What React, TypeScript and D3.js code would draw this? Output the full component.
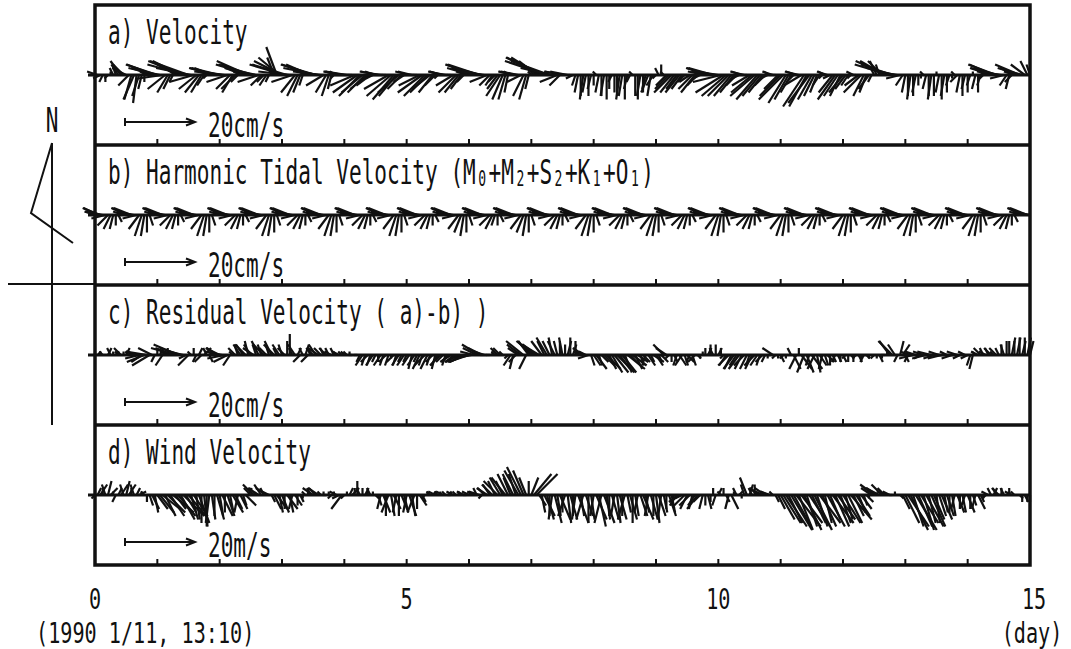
import { useEffect, useRef } from 'react';
import * as d3 from 'd3';

type UV = [number, number];

// hourly vectors [east, north], one row per day (cm/s, wind in m/s)
const velocityUV: UV[] = [
  [-2,0],[-3,1],[-2,-1],[-1,-2],[0,-2],[-1,-1],[0,1],[-1,2],[-1,3],[-2,3],[-3,4],[-3,3],[-4,2],[-3,-3],[-2,-7],[-3,-7],[-1,-8],[-2,-6],[-1,-4],[0,-2],[-2,1],[-4,2],[-6,2],[-8,3],
  [-9,3],[-9,2],[-7,-1],[-5,-4],[-3,-5],[-2,-4],[-1,-2],[-3,2],[-6,3],[-8,4],[-10,4],[-11,3],[-11,4],[-10,2],[-7,-2],[-5,-4],[-4,-5],[-3,-5],[-2,-3],[-1,-1],[-3,1],[-5,2],[-7,2],[-8,2],
  [-8,2],[-8,1],[-7,1],[-6,-2],[-4,-4],[-3,-5],[-4,-4],[-2,-2],[-2,1],[-5,2],[-7,3],[-9,4],[-10,3],[-10,3],[-9,2],[-6,-2],[-3,-3],[-2,-2],[-2,-3],[-1,-2],[-1,2],[-2,5],[-3,8],[-6,5],
  [-8,4],[-10,3],[-10,3],[-9,1],[-6,-2],[-4,-5],[-3,-6],[-2,-5],[-1,-3],[-2,1],[-5,2],[-7,3],[-9,3],[-10,3],[-10,2],[-8,1],[-5,-3],[-3,-5],[-2,-6],[-1,-4],[-1,-1],[-2,1],[-4,1],[-5,1],
  [-6,1],[-6,1],[-5,0],[-5,0],[-7,-3],[-7,-5],[-6,-6],[-6,-5],[-5,-5],[-5,-4],[-4,-3],[-2,-1],[-3,1],[-5,1],[-6,1],[-5,0],[-5,0],[-7,-4],[-7,-6],[-6,-7],[-5,-6],[-6,-5],[-4,-4],[-3,-2],
  [-2,0],[-4,1],[-4,1],[-4,0],[-4,0],[-6,-3],[-7,-5],[-6,-6],[-5,-5],[-5,-4],[-4,-5],[-3,-3],[-1,-1],[-3,1],[-4,1],[-5,1],[-5,0],[-4,0],[-5,-3],[-5,-5],[-4,-5],[-3,-4],[-2,-2],[-3,1],
  [-5,2],[-7,2],[-8,3],[-9,3],[-9,3],[-8,2],[-7,1],[-5,-2],[-3,-3],[-2,-3],[-2,-2],[-3,-4],[-4,-6],[-3,-7],[-2,-7],[-1,-5],[-2,1],[-4,1],[-5,1],[-5,1],[-4,-2],[-3,-6],[-2,-7],[-1,-4],
  [-1,1],[-3,3],[-5,4],[-8,5],[-10,5],[-11,5],[-12,4],[-11,4],[-9,2],[-7,0],[-5,-2],[-3,-3],[-5,1],[-6,1],[-5,1],[-4,0],[-2,-1],[-1,-3],[-1,-5],[0,-6],[-1,-7],[-1,-5],[0,-6],[-1,-4],
  [0,-3],[-1,1],[-1,-5],[0,-6],[-1,-6],[0,-7],[0,-4],[-1,-2],[0,-5],[0,-6],[-1,-7],[-1,-6],[0,-7],[-1,-4],[-1,-2],[-1,1],[0,-6],[0,-7],[-1,-6],[0,-5],[-1,-4],[-2,-5],[-1,-6],[-2,-3],
  [-1,-1],[-1,2],[0,3],[-1,1],[-3,-3],[-4,-4],[-5,-5],[-4,-5],[-3,-4],[-4,-5],[-3,-4],[-2,-2],[-2,0],[-3,-2],[-4,-4],[-4,-5],[-3,-3],[-2,-1],[-3,1],[-5,1],[-6,2],[-7,2],[-7,2],[-7,1],
  [-6,1],[-8,-2],[-8,-5],[-7,-6],[-6,-6],[-5,-6],[-4,-5],[-3,-3],[-2,-1],[-3,1],[-4,1],[-3,0],[-5,-3],[-6,-5],[-7,-6],[-6,-7],[-5,-6],[-4,-5],[-3,-3],[-2,-1],[-2,1],[-3,1],[-2,0],[-4,-4],
  [-6,-6],[-7,-7],[-5,-8],[-4,-7],[-3,-5],[-2,-2],[-3,1],[-4,1],[-5,-3],[-6,-9],[-5,-9],[-6,-8],[-4,-7],[-3,-6],[-2,-5],[-2,-3],[-1,-1],[-2,1],[-3,1],[-2,-1],[-4,-5],[-5,-7],[-4,-6],[-3,-6],
  [-4,-5],[-3,-4],[-2,-3],[-1,-1],[-2,1],[-2,0],[-4,-3],[-5,-5],[-3,-6],[-2,-5],[-3,-4],[-1,-2],[-1,2],[-2,4],[-1,3],[-4,4],[-7,4],[-9,4],[-10,3],[-9,3],[-8,2],[-6,1],[-4,-1],[-2,-3],
  [-1,-5],[0,-6],[-1,-7],[0,-6],[-1,-5],[0,-3],[0,-1],[-1,1],[-1,-4],[0,-6],[-1,-7],[0,-6],[0,1],[-1,-5],[0,-7],[-1,-6],[0,-5],[-1,-3],[0,-1],[-1,1],[-2,-2],[-1,-5],[0,-6],[-1,-4],
  [0,-5],[-1,-3],[0,1],[-1,-4],[0,-5],[-1,-3],[-1,-1],[-2,1],[-4,2],[-6,2],[-7,3],[-8,3],[-8,2],[-7,1],[-4,-1],[-2,-3],[-1,-4],[-2,-2],[-3,1],[-5,2],[-7,3],[-7,2],[-4,3],[-2,4],
  [-1,3],
];

const tidalUV: UV[] = [
  [-3,1],[-4,2],[-5,2],[-5,1],[-4,-1],[-3,-3],[-2,-4],[-1,-4],[0,-3],[1,-2],[-1,1],[-3,1],[-4,2],[-5,2],[-5,2],[-5,1],[-4,-1],[-3,-4],[-2,-6],[-1,-6],[0,-5],[1,-3],[-1,1],[-3,1],
  [-4,2],[-5,2],[-5,2],[-5,1],[-4,-1],[-3,-3],[-2,-4],[-1,-4],[0,-3],[1,-2],[-1,1],[-3,1],[-4,2],[-5,2],[-5,2],[-5,1],[-4,-1],[-3,-4],[-2,-6],[-1,-6],[0,-5],[1,-3],[0,0],[-1,1],
  [-3,1],[-4,2],[-5,2],[-5,2],[-5,1],[-4,-1],[-3,-3],[-2,-4],[-1,-4],[0,-3],[1,-2],[-1,1],[-3,1],[-4,2],[-5,2],[-5,2],[-5,1],[-4,-1],[-3,-4],[-2,-6],[-1,-6],[0,-5],[1,-3],[-1,1],
  [-3,1],[-4,2],[-5,2],[-5,2],[-5,1],[-4,-1],[-3,-3],[-2,-4],[-1,-4],[0,-3],[1,-2],[-1,1],[-3,1],[-4,2],[-5,2],[-5,2],[-5,1],[-4,-1],[-3,-4],[-2,-6],[-1,-6],[0,-5],[1,-3],[0,0],
  [-1,1],[-3,1],[-4,2],[-5,2],[-5,2],[-5,1],[-4,-1],[-3,-3],[-2,-4],[-1,-4],[0,-3],[1,-2],[-1,1],[-3,1],[-4,2],[-5,2],[-5,2],[-5,1],[-4,-1],[-3,-4],[-2,-6],[-1,-6],[0,-5],[1,-3],
  [-1,1],[-3,1],[-4,2],[-5,2],[-5,2],[-5,1],[-4,-1],[-3,-3],[-2,-4],[-1,-4],[0,-3],[1,-2],[0,0],[-1,1],[-3,1],[-4,2],[-5,2],[-5,2],[-5,1],[-4,-1],[-3,-4],[-2,-5],[-1,-6],[0,-5],
  [1,-3],[-1,1],[-3,1],[-4,2],[-5,2],[-5,2],[-5,1],[-4,-1],[-3,-3],[-2,-4],[-1,-3],[0,-3],[1,-2],[-1,1],[-3,1],[-4,2],[-5,2],[-5,2],[-5,1],[-4,-1],[-3,-4],[-2,-5],[-1,-6],[0,-5],
  [1,-3],[0,0],[-1,1],[-3,1],[-4,2],[-5,2],[-5,2],[-5,1],[-4,-1],[-3,-3],[-2,-4],[-1,-4],[0,-3],[1,-2],[-1,1],[-3,1],[-4,2],[-5,2],[-5,2],[-5,1],[-4,-1],[-3,-4],[-2,-6],[-1,-6],
  [0,-5],[1,-3],[0,0],[-1,1],[-3,1],[-4,2],[-5,2],[-5,2],[-5,1],[-4,-1],[-3,-3],[-2,-4],[-1,-4],[0,-3],[1,-2],[-1,1],[-3,1],[-4,2],[-5,2],[-5,2],[-5,1],[-4,-1],[-3,-4],[-2,-6],
  [-1,-6],[0,-5],[1,-3],[-1,1],[-3,1],[-4,2],[-5,2],[-5,2],[-5,1],[-4,-1],[-3,-3],[-2,-4],[-1,-4],[0,-3],[1,-2],[0,0],[-1,1],[-3,1],[-4,2],[-5,2],[-5,2],[-5,1],[-4,-1],[-3,-4],
  [-2,-6],[-1,-6],[0,-5],[1,-3],[-1,1],[-3,1],[-4,2],[-5,2],[-5,2],[-5,1],[-4,-1],[-3,-3],[-2,-4],[-1,-4],[0,-3],[1,-2],[0,0],[-1,1],[-3,1],[-4,2],[-5,2],[-5,2],[-5,1],[-4,-1],
  [-3,-4],[-2,-6],[-1,-6],[0,-5],[1,-3],[-1,1],[-3,1],[-4,2],[-5,2],[-5,2],[-5,1],[-4,-1],[-3,-3],[-2,-4],[-1,-4],[0,-3],[1,-2],[-1,1],[-3,1],[-4,2],[-5,2],[-5,2],[-5,1],[-4,-1],
  [-3,-4],[-2,-6],[-1,-6],[0,-5],[1,-3],[0,0],[-1,1],[-3,1],[-4,2],[-5,2],[-5,2],[-5,1],[-4,-1],[-3,-3],[-2,-4],[-1,-4],[0,-3],[1,-2],[-1,1],[-3,1],[-4,2],[-5,2],[-5,2],[-5,1],
  [-4,-1],[-3,-4],[-2,-6],[-1,-6],[0,-5],[1,-3],[-1,1],[-3,1],[-4,2],[-5,2],[-5,2],[-5,1],[-4,-1],[-3,-3],[-2,-4],[-1,-4],[0,-3],[1,-2],[0,0],[-1,1],[-3,1],[-4,2],[-5,2],[-5,2],
  [-5,1],[-4,-1],[-3,-4],[-2,-6],[-1,-6],[0,-5],[1,-3],[-1,1],[-3,1],[-4,2],[-5,2],[-5,2],[-5,1],[-4,-1],[-3,-3],[-2,-4],[-1,-4],[0,-3],[1,-2],[-1,1],[-3,1],[-4,2],[-5,2],[-5,2],
  [-5,1],
];

const residualUV: UV[] = [
  [0,1],[1,1],[0,1],[-1,1],[0,0],[1,2],[-1,2],[0,1],[1,1],[-1,1],[-2,2],[0,1],[1,2],[-1,1],[0,0],[-2,1],[-3,1],[-4,-1],[-3,-2],[-5,-2],[-6,1],[-5,-3],[-4,2],[-1,-2],
  [0,2],[1,2],[-2,-3],[-1,1],[0,2],[-3,1],[-5,2],[-7,2],[-7,3],[-6,2],[-4,1],[-2,-1],[-3,-3],[-1,1],[0,2],[-1,-2],[1,2],[-2,-2],[2,2],[-1,2],[1,-2],[0,1],[-2,1],[-3,2],
  [-4,2],[-5,1],[-5,-1],[-4,-2],[-2,-3],[-1,1],[-2,2],[-1,3],[-2,3],[-2,3],[-3,3],[-1,4],[-2,3],[-3,2],[-1,3],[-2,4],[-1,3],[-3,3],[-2,2],[-1,3],[-2,4],[-3,3],[-1,2],[-2,3],
  [-1,3],[-2,2],[0,4],[0,6],[-1,2],[-2,3],[1,2],[-2,-2],[-1,2],[1,3],[-2,-2],[-1,2],[-2,2],[-2,3],[-3,2],[-2,2],[-1,2],[-2,2],[-1,2],[-2,1],[-1,2],[-1,1],[-2,1],[-1,1],
  [-1,1],[-1,1],[0,1],[-1,0],[0,0],[-1,0],[-1,-2],[-2,-3],[-1,-3],[-2,-2],[-1,-3],[-2,-3],[-1,-2],[0,-2],[-2,-3],[-1,-3],[-2,-2],[-1,-3],[0,-1],[-2,-2],[-1,-3],[-2,-3],[-1,-2],[-2,-3],
  [-1,-2],[-2,-3],[-1,-4],[-2,-3],[-1,-2],[-2,-4],[-1,-3],[-3,-3],[-2,-4],[-1,-3],[-2,-2],[-1,-4],[-2,-3],[-3,-3],[-2,-2],[-1,-3],[-2,-2],[-3,-2],[-2,-2],[-3,-2],[-4,-2],[-3,-1],[-4,-2],[-5,-2],
  [-6,-2],[-5,-1],[-4,1],[-4,2],[-5,3],[-4,2],[-3,1],[-2,0],[-1,0],[0,1],[-1,1],[-2,2],[-2,2],[-1,1],[0,0],[-1,-1],[-2,-3],[-1,-4],[-2,-2],[-3,2],[-4,3],[-5,4],[-2,-4],[-3,4],
  [-4,4],[-5,4],[-4,3],[-5,3],[-3,4],[-2,4],[-3,5],[-2,4],[-1,5],[-2,4],[-1,4],[0,4],[-1,5],[0,3],[1,4],[0,5],[1,3],[0,4],[-1,2],[-2,1],[-3,2],[-2,1],[-3,-1],[1,-3],
  [2,-3],[3,-4],[1,-3],[2,-2],[3,-3],[4,-4],[2,-4],[3,-5],[4,-5],[5,-5],[3,-4],[4,-5],[2,-5],[5,-4],[3,-3],[4,-3],[2,-4],[3,-2],[1,-3],[2,-2],[-1,-3],[2,-3],[1,-2],[3,-2],
  [2,-3],[1,-2],[2,-2],[-3,3],[-3,2],[-1,-1],[0,-2],[1,-2],[-1,-3],[2,-3],[-2,-3],[1,-3],[2,-2],[-1,-2],[1,-3],[-2,-2],[1,-1],[0,-1],[0,1],[0,2],[1,2],[0,3],[-1,2],[0,3],
  [1,2],[0,2],[-1,-1],[-2,-3],[-3,-3],[-2,-4],[-3,-4],[-2,-3],[-3,-4],[-2,-4],[-3,-3],[-2,-4],[-1,-3],[-2,-4],[-3,-3],[-2,-3],[-1,-3],[-2,-2],[-1,-2],[0,-1],[-1,0],[-3,2],[-1,-1],[0,-1],
  [1,-2],[-1,-1],[0,-1],[0,0],[-1,2],[2,-4],[-2,-4],[0,2],[3,-4],[-2,-5],[2,-5],[-1,-3],[3,-4],[-2,-4],[1,-5],[2,-3],[-1,-4],[1,-3],[2,-2],[0,-3],[1,-2],[-1,-2],[1,-2],[0,-2],
  [1,-2],[-1,-1],[0,-2],[1,-1],[0,-2],[-1,-1],[1,-2],[0,-1],[-1,-2],[1,-1],[0,-1],[0,0],[-1,-1],[0,-1],[1,-2],[0,-1],[-1,0],[0,1],[-3,4],[-4,4],[-2,3],[-1,-2],[1,4],[2,3],
  [1,-2],[-1,-2],[-3,1],[-4,-1],[-3,1],[-4,0],[-2,-1],[-3,1],[-4,-1],[-3,0],[-4,1],[-3,-1],[-2,0],[-3,1],[-4,-1],[-3,0],[-2,1],[-4,0],[-3,-1],[-2,0],[-3,1],[-2,-1],[-3,0],[-2,1],
  [-2,-1],[-1,-3],[-1,-4],[-1,1],[-2,1],[-2,2],[-1,2],[-2,1],[-1,2],[-2,2],[-1,1],[-2,2],[-1,2],[0,3],[-1,3],[0,4],[0,4],[1,5],[0,4],[1,5],[0,5],[1,4],[0,5],[1,5],
  [1,4],
];

const windUV: UV[] = [
  [-1,-1],[1,2],[2,3],[0,2],[-1,3],[1,4],[2,2],[0,1],[-1,-2],[1,2],[2,3],[-1,3],[1,4],[2,3],[0,2],[-1,3],[1,2],[2,1],[0,1],[-1,1],[0,-2],[1,-3],[2,-4],[1,-5],
  [3,-4],[4,-5],[5,-4],[3,-6],[5,-5],[4,-6],[6,-5],[3,-4],[5,-6],[4,-7],[6,-6],[3,-5],[5,-6],[2,-7],[4,-6],[1,-7],[3,-8],[0,-8],[1,-9],[0,-9],[-1,-8],[1,-7],[0,-6],[2,-7],
  [1,-6],[3,-6],[0,-5],[2,-6],[1,-5],[3,-5],[2,-4],[-1,-5],[2,-4],[1,-3],[3,-3],[1,2],[-2,2],[-3,3],[-2,2],[-3,2],[-2,3],[-1,2],[-3,2],[-2,1],[1,-2],[2,-4],[3,-4],[1,-5],
  [2,-5],[0,-4],[3,-4],[1,-5],[-1,-4],[2,-3],[0,-3],[1,-2],[0,-1],[-1,1],[0,1],[-1,2],[-3,2],[-2,2],[-3,2],[-1,1],[0,1],[-1,0],[0,1],[-1,-1],[0,1],[-2,1],[-2,-1],[-3,-4],
  [-1,-1],[0,1],[1,2],[2,2],[0,2],[0,4],[-1,2],[0,2],[1,2],[0,1],[-1,2],[0,1],[1,-1],[1,-3],[-1,-4],[2,-5],[0,-6],[-2,-5],[1,-6],[2,-4],[-1,-5],[0,-6],[2,-5],[1,-4],
  [-1,-5],[2,-6],[1,-6],[-2,-5],[0,-4],[2,-3],[1,-2],[-1,-1],[0,1],[-1,1],[1,1],[-2,1],[-1,1],[0,1],[-2,1],[-1,1],[1,1],[-1,0],[-2,1],[-1,1],[0,1],[-1,1],[-2,1],[-1,0],
  [-2,1],[-1,1],[-2,1],[-1,2],[-3,1],[-1,-1],[-2,2],[-3,2],[-2,3],[-3,3],[-2,4],[-4,4],[-3,5],[-2,4],[-4,5],[-3,6],[-2,5],[-3,6],[-2,6],[-4,7],[-4,8],[-3,7],[-2,5],[0,4],
  [2,5],[5,6],[6,6],[2,-3],[1,-5],[3,-6],[2,-7],[0,-6],[-1,-7],[2,-8],[1,-6],[3,-7],[0,-5],[-2,-6],[1,-8],[2,-7],[0,-6],[-1,-7],[3,-8],[1,-6],[-2,-7],[2,-6],[0,-8],[1,-7],
  [-1,-6],[3,-7],[2,-9],[-2,-8],[3,-8],[1,-7],[0,-6],[2,-7],[-1,-6],[1,-8],[2,-7],[0,-6],[-2,-7],[1,-5],[2,-7],[0,-8],[1,-6],[-1,-5],[2,-6],[3,-7],[1,-5],[-1,-6],[2,-7],[0,-6],
  [1,-8],[2,-6],[-1,-7],[1,-5],[0,-4],[2,-6],[1,-5],[-1,-3],[-2,-3],[-3,-2],[-2,-1],[-3,-3],[-2,-4],[-3,-3],[-1,-4],[-2,-3],[-3,-4],[-2,-2],[-1,-4],[0,-3],[1,-4],[0,-2],[0,2],[-1,-3],
  [1,2],[-1,1],[0,2],[1,-2],[-1,-4],[2,-4],[0,1],[-1,2],[1,1],[0,-1],[-1,3],[-2,5],[1,3],[-1,2],[0,3],[-2,2],[-3,2],[-2,1],[-3,2],[-2,1],[-3,1],[-1,1],[1,-2],[2,-4],
  [4,-7],[5,-8],[6,-9],[4,-8],[6,-10],[5,-9],[7,-9],[4,-10],[6,-8],[5,-10],[3,-9],[6,-9],[4,-8],[5,-10],[3,-9],[6,-8],[4,-9],[2,-8],[5,-9],[3,-7],[6,-8],[4,-9],[5,-7],[3,-8],
  [5,-8],[2,-7],[4,-8],[6,-7],[3,-6],[4,-6],[2,-5],[3,-4],[1,-3],[2,-2],[0,-1],[-3,2],[-4,3],[-3,2],[-4,2],[-3,3],[-2,2],[-3,1],[-2,1],[-1,0],[0,1],[0,0],[1,-1],[2,-4],
  [4,-8],[6,-9],[5,-10],[3,-9],[6,-10],[4,-9],[5,-8],[3,-10],[5,-9],[2,-8],[4,-9],[3,-7],[1,-8],[2,-6],[3,-7],[1,-5],[2,-6],[0,-5],[1,-6],[-1,-4],[2,-5],[0,-4],[1,-5],[-1,-3],
  [2,-5],[0,-4],[1,-3],[-1,-4],[2,-4],[1,-2],[0,-1],[-1,-1],[-2,1],[-1,2],[1,2],[-1,2],[-2,2],[0,2],[-1,2],[1,1],[0,2],[-2,1],[-1,1],[0,0],[1,-1],[0,-2],[1,-2],[0,-2],
  [0,-2],
];

const panelTitles = ['a) Velocity', '', 'c) Residual Velocity ( a)-b) )', 'd) Wind Velocity'];
// title b with subscripted constituents: [text, isSubscript]
const tidalTitle: [string, boolean][] = [
  ['b) Harmonic Tidal Velocity (M', false], ['0', true], ['+M', false], ['2', true],
  ['+S', false], ['2', true], ['+K', false], ['1', true], ['+O', false], ['1', true], [')', false],
];
const scaleLabels = ['20cm/s', '20cm/s', '20cm/s', '20m/s'];
const dayTicks = d3.range(1, 15);
const dayLabels = [0, 5, 10, 15];

const W = 1071;
const H = 649;
const X0 = 95;
const X1 = 1030;
const TOP = 5;
const PH = 140;
const FONT = '"DejaVu Sans Mono", "Liberation Mono", monospace';
const FS = 34;
const SX = 0.62;
const INK = '#111';

export default function App() {
  const svgRef = useRef<SVGSVGElement>(null);

  useEffect(() => {
    if (!svgRef.current) return;
    const svg = d3.select(svgRef.current);
    svg.selectAll('*').remove();

    const x = d3.scaleLinear().domain([0, 15]).range([X0, X1]);
    const len = d3.scaleLinear().domain([0, 20]).range([0, 70]);

    const label = (str: string, lx: number, ly: number, anchor = 'start', size = FS, sx = SX) =>
      svg
        .append('g')
        .attr('transform', `translate(${lx},${ly}) scale(${sx},1)`)
        .append('text')
        .attr('text-anchor', anchor)
        .style('font-family', FONT)
        .style('font-size', `${size}px`)
        .attr('fill', INK)
        .text(str);

    const panels = [velocityUV, tidalUV, residualUV, windUV];

    panels.forEach((data, k) => {
      const top = TOP + k * PH;
      const y0 = top + 70;
      const g = svg.append('g');

      // sticks
      g.selectAll('line.stick')
        .data(data)
        .join('line')
        .attr('class', 'stick')
        .attr('x1', (_, i) => x(i / 24))
        .attr('y1', y0)
        .attr('x2', (d, i) => x(i / 24) + len(d[0]))
        .attr('y2', (d) => y0 - len(d[1]))
        .attr('stroke', INK)
        .attr('stroke-width', 2.2);

      // baseline + stub left of frame
      g.append('line')
        .attr('x1', X0 - 7).attr('x2', X1)
        .attr('y1', y0).attr('y2', y0)
        .attr('stroke', INK).attr('stroke-width', 2.8);

      // day ticks along bottom of the panel
      const yb = top + PH;
      g.selectAll('line.tick')
        .data(dayTicks)
        .join('line')
        .attr('class', 'tick')
        .attr('x1', (d) => x(d)).attr('x2', (d) => x(d))
        .attr('y1', yb).attr('y2', yb - 6)
        .attr('stroke', INK).attr('stroke-width', 2);

      // reference arrow
      const ya = top + 117;
      const xa = 125;
      const xb = xa + len(20);
      g.append('line').attr('x1', xa).attr('x2', xb).attr('y1', ya).attr('y2', ya)
        .attr('stroke', INK).attr('stroke-width', 2);
      g.append('line').attr('x1', xa).attr('x2', xa).attr('y1', ya - 4).attr('y2', ya + 4)
        .attr('stroke', INK).attr('stroke-width', 2);
      g.append('path')
        .attr('d', `M${xb - 9},${ya - 3.5}L${xb},${ya}L${xb - 9},${ya + 3.5}`)
        .attr('fill', 'none').attr('stroke', INK).attr('stroke-width', 2);
      label(scaleLabels[k], 208, top + 132);

      // title
      if (k === 1) {
        const t = svg
          .append('g')
          .attr('transform', `translate(108,${top + 39}) scale(${SX},1)`)
          .append('text')
          .style('font-family', FONT)
          .style('font-size', `${FS}px`)
          .attr('fill', INK);
        let shifted = false;
        tidalTitle.forEach(([s, sub]) => {
          const ts = t.append('tspan').text(s);
          if (sub) {
            ts.style('font-size', '21px').attr('dy', 2).attr('dx', 4);
            shifted = true;
          } else if (shifted) {
            ts.attr('dy', -2).attr('dx', 4);
            shifted = false;
          }
        });
      } else {
        label(panelTitles[k], 108, top + 39);
      }
    });

    // frame and panel separators
    svg.append('rect')
      .attr('x', X0).attr('y', TOP)
      .attr('width', X1 - X0).attr('height', PH * 4)
      .attr('fill', 'none').attr('stroke', INK).attr('stroke-width', 3.5);
    [1, 2, 3].forEach((k) => {
      svg.append('line')
        .attr('x1', X0).attr('x2', X1)
        .attr('y1', TOP + k * PH).attr('y2', TOP + k * PH)
        .attr('stroke', INK).attr('stroke-width', 3.5);
    });

    // x labels (slightly smaller so the two rows stay apart)
    dayLabels.forEach((d) => label(String(d), x(d) + (d === 15 ? 4 : 0), 609, 'middle', 28, 0.72));
    label('(1990 1/11, 13:10)', 36, 643, 'start', 28, 0.72);
    label('(day)', 1032, 643, 'middle', 28, 0.72);

    // north indicator
    label('N', 52, 132, 'middle');
    svg.append('path')
      .attr('d', 'M52,143L31,213L73,243')
      .attr('fill', 'none').attr('stroke', INK).attr('stroke-width', 2);
    svg.append('line')
      .attr('x1', 52).attr('x2', 52).attr('y1', 143).attr('y2', 425)
      .attr('stroke', INK).attr('stroke-width', 2);
    svg.append('line')
      .attr('x1', 8).attr('x2', X0).attr('y1', TOP + 2 * PH - 1).attr('y2', TOP + 2 * PH - 1)
      .attr('stroke', INK).attr('stroke-width', 2);
  }, []);

  return (
    <svg
      ref={svgRef}
      width={W}
      height={H}
      style={{ position: 'absolute', left: 0, top: 0, background: '#fff' }}
    />
  );
}
